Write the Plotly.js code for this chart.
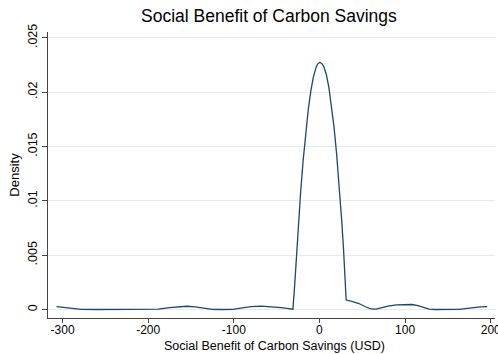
<!DOCTYPE html>
<html>
<head>
<meta charset="utf-8">
<script src="https://cdn.plot.ly/plotly-3.0.1.min.js"></script>
<style>html,body{margin:0;padding:0;background:#fff;}#chart{width:498px;height:354px;}</style>
</head>
<body>
<div id="chart"></div>
<script>
// Values (USD, density)
const benefitUSD = [-307, -295, -285, -278, -260, -240, -220, -200, -188, -175, -165, -155, -145, -135, -125, -115, -101, -90, -80, -68, -55, -45, -38, -31,
  -29, -27, -25, -22, -19, -16, -13, -10, -7, -4, -2, 0.5, 3, 5, 8, 11, 14, 17, 20, 23, 26, 28, 30, 31.2,
  38, 46, 53, 60, 66, 72, 80, 90, 100, 108, 115, 122, 128, 135, 150, 163, 170, 180, 188, 196];
const densityValues = [0.00026, 0.00018, 0.00008, 0.00001, 0, 0, 0, 0, 0.00003, 0.00017, 0.00026, 0.00030, 0.00025, 0.00012, 0.00002, 0, 0.00002, 0.00015, 0.00026, 0.00032, 0.00028, 0.00018, 0.0001, 0.00003,
  0.00215, 0.00485, 0.00736, 0.01077, 0.01375, 0.0163, 0.01844, 0.02014, 0.02142, 0.02227, 0.0226, 0.02275, 0.0226, 0.02237, 0.02162, 0.02044, 0.01884, 0.0168, 0.01435, 0.01147, 0.00816, 0.0057, 0.00302, 0.00087,
  0.00075, 0.00055, 0.00028, 0.00005, 0.00003, 0.00015, 0.00032, 0.00043, 0.00048, 0.00046, 0.00036, 0.00018, 0.00003, 0, 0, 0.00002, 0.00008, 0.00018, 0.00024, 0.00026];
const xTickVals = [-300, -200, -100, 0, 100, 200];
const xTickText = ["-300", "-200", "-100", "0", "100", "200"];
const yTickVals = [0, 0.005, 0.01, 0.015, 0.02, 0.025];
const yTickText = ["0", ".005", ".01", ".015", ".02", ".025"];
const xTitle = "Social Benefit of Carbon Savings (USD)";

const font = "Liberation Sans, Arial, sans-serif";
const trace = {
  x: benefitUSD, y: densityValues, type: "scatter", mode: "lines",
  line: {color: "#1a476f", width: 1.3}, hoverinfo: "skip"
};
const layout = {
  width: 498, height: 354,
  margin: {l: 48, r: 3, t: 32, b: 36},
  paper_bgcolor: "#fff", plot_bgcolor: "#fff",
  showlegend: false,
  font: {family: font, size: 13, color: "#000"},
  title: {text: "Social Benefit of Carbon Savings", font: {family: font, size: 17.5, color: "#000"}, x: 0.54, xanchor: "center", y: 0.955, yanchor: "middle"},
  xaxis: {
    range: [-317, 205], tickvals: xTickVals, ticktext: xTickText,
    showgrid: false, zeroline: false, showline: true, linecolor: "#444", linewidth: 1,
    ticks: "outside", ticklen: 4, tickcolor: "#444", tickfont: {size: 12},
    ticklabelstandoff: -3, ticklabeloverflow: "allow"
  },
  yaxis: {
    range: [-0.00078, 0.02553], tickvals: yTickVals, ticktext: yTickText, tickangle: -90,
    showgrid: true, gridcolor: "#eaeaea", gridwidth: 1, zeroline: false,
    showline: true, linecolor: "#444", linewidth: 1,
    ticks: "outside", ticklen: 5, tickcolor: "#444", tickfont: {size: 12.5},
    title: {text: "Density", font: {size: 13}, standoff: 3}
  },
  annotations: [{
    text: xTitle, xref: "paper", yref: "paper", x: 0.506, y: -0.099,
    xanchor: "center", yanchor: "middle", showarrow: false, font: {size: 12.5}
  }]
};
Plotly.newPlot("chart", [trace], layout, {staticPlot: true, displayModeBar: false});
</script>
</body>
</html>
